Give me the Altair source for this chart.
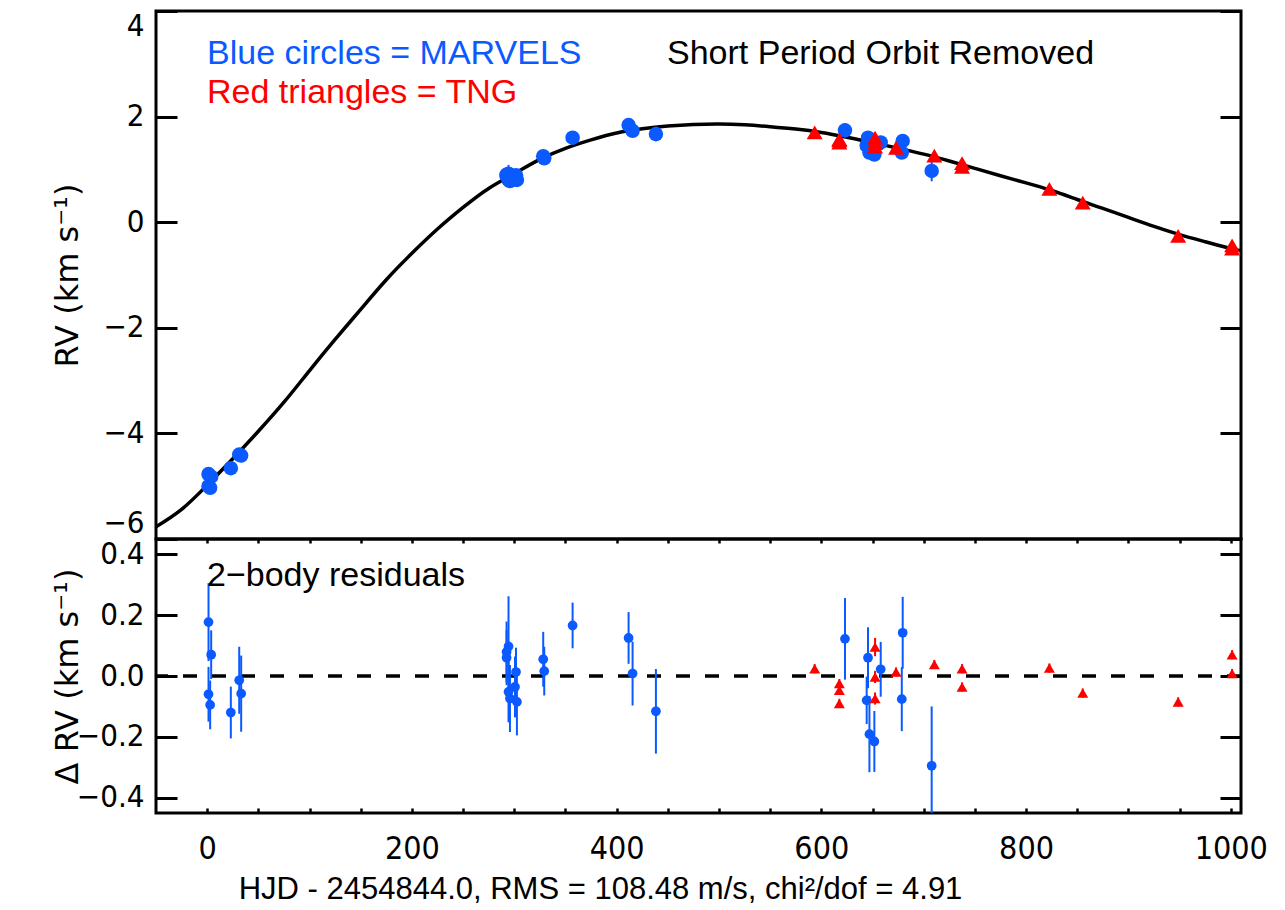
import altair as alt
import pandas as pd

# ---------------- data ----------------
# MARVELS (blue circles): time, RV (km/s), residual (km/s), error (km/s)
marvels_t = [1.3, 3.9, 1.3, 2.9, 23.1, 31.3, 33.2,
             292.5, 294.4, 292.5, 294.4, 295.8, 300.7, 301.7, 302.6,
             328.3, 329.3, 357.0, 411.7, 415.6, 438.4,
             623.1, 645.6, 644.3, 647.0, 651.8, 658.0, 679.5, 678.6, 707.8]
marvels_rv = [-4.77, -4.82, -5.00, -5.03, -4.66, -4.40, -4.42,
              0.90, 0.92, 0.88, 0.80, 0.78, 0.84, 0.89, 0.80,
              1.25, 1.21, 1.60, 1.84, 1.73, 1.67,
              1.74, 1.60, 1.45, 1.32, 1.28, 1.51, 1.54, 1.32, 0.97]
marvels_res = [0.177, 0.070, -0.060, -0.095, -0.120, -0.014, -0.058,
               0.079, 0.097, 0.060, -0.052, -0.074, -0.036, 0.013, -0.085,
               0.055, 0.016, 0.166, 0.125, 0.008, -0.116,
               0.122, 0.060, -0.080, -0.191, -0.215, 0.022, 0.142, -0.076, -0.295]
marvels_err = [0.128, 0.080, 0.090, 0.080, 0.085, 0.110, 0.125,
               0.100, 0.165, 0.090, 0.100, 0.110, 0.100, 0.080, 0.110,
               0.090, 0.080, 0.075, 0.085, 0.105, 0.139,
               0.134, 0.100, 0.078, 0.125, 0.100, 0.090, 0.118, 0.105, 0.195]

# TNG (red triangles)
tng_t = [593.5, 617.6, 617.6, 617.6, 652.5, 652.5, 652.5, 673.0,
         710.4, 737.5, 737.5, 822.8, 855.4, 948.6, 1001.3, 1001.3]
tng_rv = [1.70, 1.57, 1.55, 1.51, 1.60, 1.50, 1.43, 1.41,
          1.26, 1.12, 1.05, 0.63, 0.37, -0.26, -0.44, -0.50]
tng_res = [0.024, -0.025, -0.047, -0.090, 0.095, -0.003, -0.074, 0.013,
           0.038, 0.024, -0.036, 0.026, -0.056, -0.085, 0.070, 0.008]
tng_err = [0.015, 0.015, 0.015, 0.015, 0.030, 0.020, 0.020, 0.015,
           0.015, 0.015, 0.015, 0.015, 0.015, 0.015, 0.015, 0.015]

# Orbit model curve
model_t = [-50, -25, 0, 25, 50, 75, 100, 125, 150, 175, 200, 225, 250, 275,
           300, 325, 350, 375, 400, 425, 450, 475, 500, 525, 550, 575, 600,
           625, 650, 675, 700, 725, 750, 775, 800, 825, 850, 875, 900, 925,
           950, 975, 1000, 1010]
model_rv = [-5.77, -5.44, -4.98, -4.48, -3.96, -3.41, -2.81, -2.22, -1.65,
            -1.09, -0.59, -0.13, 0.28, 0.64, 0.92, 1.19, 1.40, 1.56, 1.69,
            1.77, 1.82, 1.85, 1.86, 1.845, 1.81, 1.765, 1.70, 1.61, 1.51,
            1.40, 1.29, 1.16, 1.02, 0.88, 0.745, 0.60, 0.43, 0.26, 0.09,
            -0.08, -0.235, -0.37, -0.50, -0.54]

x_major = [0, 200, 400, 600, 800, 1000]
x_minor = [0, 50, 100, 150, 200, 250, 300, 350, 400, 450, 500, 550, 600,
           650, 700, 750, 800, 850, 900, 950, 1000]
top_y_ticks = [-6, -4, -2, 0, 2, 4]
bot_y_ticks = [-0.4, -0.2, 0.0, 0.2, 0.4]

ann_blue = ["Blue circles = MARVELS"]
ann_red = ["Red triangles = TNG"]
ann_black = ["Short Period Orbit Removed"]
ann_resid = ["2\u2212body residuals"]
x_title = "HJD - 2454844.0, RMS = 108.48 m/s, chi\u00b2/dof = 4.91"
y_title_top = "RV (km s\u207b\u00b9)"
y_title_bot = "\u0394 RV (km s\u207b\u00b9)"

# ---------------- styling ----------------
BLUE = "#0a5aff"
RED = "#ff0000"
NUM = "Liberation Sans Narrow, DejaVu Sans Condensed, Liberation Sans"
TXT = "Liberation Sans, DejaVu Sans"
TTL = "DejaVu Sans, Liberation Sans"
W, H1, H2 = 1085, 528, 274

marv = pd.DataFrame(dict(t=marvels_t, rv=marvels_rv, res=marvels_res, err=marvels_err))
tngd = pd.DataFrame(dict(t=tng_t, rv=tng_rv, res=tng_res, err=tng_err))
model = pd.DataFrame(dict(t=model_t, rv=model_rv))
zero = pd.DataFrame(dict(y=[0.0]))

xs = alt.Scale(domain=[-50, 1010], nice=False, zero=False)
ys1 = alt.Scale(domain=[-6, 4], nice=False, zero=False)
ys2 = alt.Scale(domain=[-0.45, 0.45], nice=False, zero=False)


def left_axis(values, fmt, title, flush):
    return alt.Axis(values=values, format=fmt, orient="left", offset=-21,
                    tickSize=21, tickWidth=3, tickColor="black", domain=False,
                    grid=False, labelFont=NUM, labelFontSize=31,
                    labelColor="black", labelPadding=12, labelFlush=flush,
                    title=title, titleFont=TTL, titleFontSize=32,
                    titleFontWeight="normal", titleColor="black",
                    titleX=-110, titleBaseline="middle")


def right_axis(values):
    return alt.Axis(values=values, orient="right", offset=-21, tickSize=21,
                    tickWidth=3, tickColor="black", domain=False, grid=False,
                    labels=False, title=None)


def text_layer(lines, color, px, py):
    return alt.Chart(pd.DataFrame(dict(label=lines))).mark_text(
        align="left", baseline="alphabetic", font=TXT, fontSize=34,
        color=color).encode(text="label:N", x=alt.value(px), y=alt.value(py))


# ---------------- top panel ----------------
xt = alt.X("t:Q", scale=xs, axis=None)
line = alt.Chart(model).mark_line(color="black", strokeWidth=3.5,
                                  interpolate="natural", clip=True).encode(
    x=xt, y=alt.Y("rv:Q", scale=ys1,
                  axis=left_axis(top_y_ticks, "d", y_title_top, True)))
err_top = alt.Chart(marv).transform_calculate(
    lo="datum.rv - datum.err", hi="datum.rv + datum.err").mark_rule(
    color=BLUE, strokeWidth=2, clip=True).encode(
    x=xt, y=alt.Y("lo:Q", scale=ys1, axis=None), y2="hi:Q")
pts_top = alt.Chart(marv).mark_point(shape="circle", filled=True, size=210,
                                     color=BLUE, opacity=1).encode(
    x=xt, y=alt.Y("rv:Q", scale=ys1, axis=right_axis(top_y_ticks)))
tri_top = alt.Chart(tngd).mark_point(shape="triangle-up", filled=True,
                                     size=256, color=RED, opacity=1).encode(
    x=xt, y=alt.Y("rv:Q", scale=ys1, axis=None))

top = alt.layer(
    line, err_top, pts_top, tri_top,
    text_layer(ann_blue, BLUE, 51, 53),
    text_layer(ann_red, RED, 51, 92),
    text_layer(ann_black, "black", 511, 53),
).resolve_axis(y="independent").properties(width=W, height=H1)

# ---------------- bottom panel ----------------
xaxis_bottom = alt.Axis(
    values=x_minor, format="d", orient="bottom", offset=-5, tickSize=5,
    tickWidth=2.5, tickColor="black", domain=False, grid=False,
    labelExpr="datum.value % 200 === 0 ? datum.label : ''",
    labelFont=NUM, labelFontSize=32, labelColor="black", labelPadding=20,
    labelFlush=False, title=x_title, titleFont=TXT, titleFontSize=31,
    titleFontWeight="normal", titleColor="black", titleX=444, titlePadding=10)
xaxis_top = alt.Axis(values=x_minor, orient="top", offset=-4, tickSize=4,
                     tickWidth=2.5, tickColor="black", domain=False,
                     grid=False, labels=False, title=None)

zline = alt.Chart(zero).mark_rule(color="black", strokeWidth=3.5,
                                  strokeDash=[14, 15]).encode(
    y=alt.Y("y:Q", scale=ys2, axis=None))
err_bot = alt.Chart(marv).transform_calculate(
    lo="datum.res - datum.err", hi="datum.res + datum.err").mark_rule(
    color=BLUE, strokeWidth=2, clip=True).encode(
    x=alt.X("t:Q", scale=xs, axis=xaxis_bottom),
    y=alt.Y("lo:Q", scale=ys2,
            axis=left_axis(bot_y_ticks, ".1f", y_title_bot, False)),
    y2="hi:Q")
pts_bot = alt.Chart(marv).mark_point(shape="circle", filled=True, size=95,
                                     color=BLUE, opacity=1).encode(
    x=alt.X("t:Q", scale=xs, axis=xaxis_top),
    y=alt.Y("res:Q", scale=ys2, axis=right_axis(bot_y_ticks)))
terr_bot = alt.Chart(tngd).transform_calculate(
    lo="datum.res - datum.err", hi="datum.res + datum.err").mark_rule(
    color=RED, strokeWidth=2, clip=True).encode(
    x=alt.X("t:Q", scale=xs, axis=None),
    y=alt.Y("lo:Q", scale=ys2, axis=None), y2="hi:Q")
tri_bot = alt.Chart(tngd).mark_point(shape="triangle-up", filled=True,
                                     size=121, color=RED, opacity=1).encode(
    x=alt.X("t:Q", scale=xs, axis=None),
    y=alt.Y("res:Q", scale=ys2, axis=None))

bot = alt.layer(
    zline, err_bot, pts_bot, terr_bot, tri_bot,
    text_layer(ann_resid, "black", 51, 47),
).resolve_axis(x="independent", y="independent").properties(width=W, height=H2)

chart = alt.vconcat(top, bot, spacing=0, bounds="flush").configure_view(
    stroke="black", strokeWidth=3).configure_concat(spacing=0).properties(
    padding={"left": 41, "top": 0, "right": 5, "bottom": 5},
    background="white")

chart.save("out.html", embed_options={"renderer": "svg", "actions": False})
